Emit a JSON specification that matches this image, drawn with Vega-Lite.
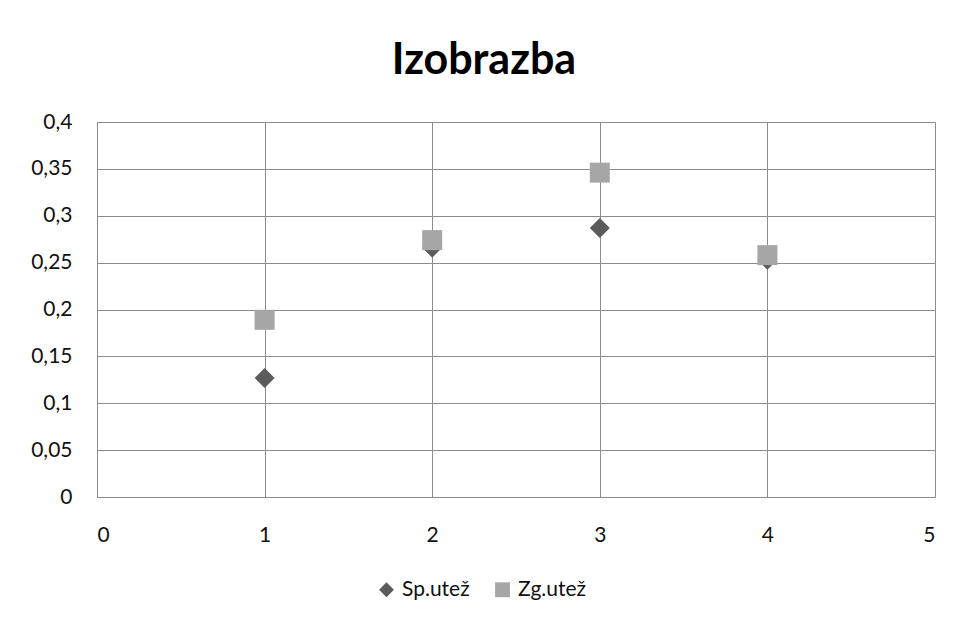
{
  "$schema": "https://vega.github.io/schema/vega-lite/v6.json",
  "width": 838,
  "height": 375,
  "autosize": {"type": "none"},
  "padding": {"left": 97, "top": 122, "right": 25, "bottom": 126},
  "background": "white",
  "title": {
    "text": "Izobrazba",
    "font": "Lato",
    "fontSize": 43,
    "fontWeight": "bold",
    "color": "#000000",
    "anchor": "middle",
    "dx": -32,
    "offset": 28
  },
  "data": {
    "values": [
      {"x": 1, "y": 0.127, "series": "Sp.utež"},
      {"x": 2, "y": 0.266, "series": "Sp.utež"},
      {"x": 3, "y": 0.287, "series": "Sp.utež"},
      {"x": 4, "y": 0.253, "series": "Sp.utež"},
      {"x": 1, "y": 0.189, "series": "Zg.utež"},
      {"x": 2, "y": 0.274, "series": "Zg.utež"},
      {"x": 3, "y": 0.346, "series": "Zg.utež"},
      {"x": 4, "y": 0.258, "series": "Zg.utež"}
    ]
  },
  "mark": {"type": "point", "filled": true, "opacity": 1, "size": 400},
  "encoding": {
    "x": {
      "field": "x",
      "type": "quantitative",
      "scale": {"domain": [0, 5], "nice": false},
      "axis": {
        "title": null,
        "values": [0, 1, 2, 3, 4, 5],
        "grid": true,
        "ticks": false,
        "labelPadding": 27,
        "labelFontSize": 21,
        "labelFont": "Lato",
        "labelColor": "#111111",
        "domainColor": "#8c8c8c",
        "gridColor": "#8c8c8c",
        "gridOpacity": 1
      }
    },
    "y": {
      "field": "y",
      "type": "quantitative",
      "scale": {"domain": [0, 0.4], "nice": false, "zero": true},
      "axis": {
        "title": null,
        "values": [0, 0.05, 0.1, 0.15, 0.2, 0.25, 0.3, 0.35, 0.4],
        "labelExpr": "replace(format(datum.value, '~g'), '.', ',')",
        "grid": true,
        "ticks": false,
        "labelPadding": 25,
        "labelFontSize": 21,
        "labelFont": "Lato",
        "labelColor": "#111111",
        "domainColor": "#8c8c8c",
        "gridColor": "#8c8c8c",
        "gridOpacity": 1
      }
    },
    "shape": {
      "field": "series",
      "type": "nominal",
      "scale": {"domain": ["Sp.utež", "Zg.utež"], "range": ["diamond", "square"]},
      "legend": null
    },
    "color": {
      "field": "series",
      "type": "nominal",
      "scale": {"domain": ["Sp.utež", "Zg.utež"], "range": ["#5b5b5b", "#a6a6a6"]},
      "legend": {
        "title": null,
        "orient": "none",
        "direction": "horizontal",
        "legendX": 279,
        "legendY": 457,
        "symbolType": "diamond",
        "symbolSize": 220,
        "symbolOpacity": 1,
        "labelFontSize": 21,
        "labelFont": "Lato",
        "labelColor": "#111111",
        "columnPadding": 22,
        "labelOffset": 5
      }
    }
  },
  "config": {
    "view": {"stroke": null}
  }
}
